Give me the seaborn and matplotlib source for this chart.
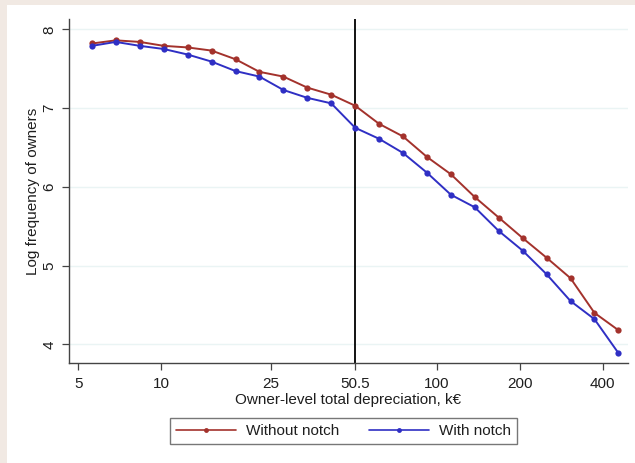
import numpy as np
import pandas as pd
import matplotlib
matplotlib.use("Agg")
import matplotlib.pyplot as plt
from matplotlib.lines import Line2D
from matplotlib.patches import Rectangle
import seaborn as sns

# ---- data ----
depreciation_keur = [5.60, 6.83, 8.35, 10.20, 12.45, 15.21, 18.58, 22.69, 27.71, 33.85,
                     41.35, 50.50, 61.68, 75.33, 92.01, 112.38, 137.27, 167.66, 204.78,
                     250.12, 305.50, 373.14, 455.75]
log_freq_without_notch = [7.82, 7.86, 7.84, 7.79, 7.77, 7.73, 7.62, 7.46, 7.40, 7.26, 7.17,
                          7.03, 6.80, 6.64, 6.38, 6.16, 5.87, 5.61, 5.35, 5.10, 4.84, 4.40, 4.18]
log_freq_with_notch = [7.79, 7.84, 7.79, 7.75, 7.68, 7.59, 7.47, 7.40, 7.23, 7.13, 7.06,
                       6.75, 6.61, 6.43, 6.18, 5.90, 5.74, 5.44, 5.19, 4.89, 4.55, 4.32, 3.89]
series_names = ["Without notch", "With notch"]
series_colors = ["#a3322c", "#2f2fc4"]
notch_at = 50.5
x_ticks = [5, 10, 25, 50.5, 100, 200, 400]
x_tick_labels = ["5", "10", "25", "50.5", "100", "200", "400"]
y_ticks = [4, 5, 6, 7, 8]

df = pd.DataFrame({
    "x": depreciation_keur * 2,
    "y": log_freq_without_notch + log_freq_with_notch,
    "series": [series_names[0]] * len(depreciation_keur) + [series_names[1]] * len(depreciation_keur),
})

sns.set_theme(style="white")
plt.rcParams["font.family"] = ["Liberation Sans", "DejaVu Sans"]
text_color = "#1e1e1e"
fs = 11

fig = plt.figure(figsize=(6.35, 4.63), dpi=100)
fig.patch.set_facecolor("white")
# beige frame strips at top and left
fig.patches.append(Rectangle((0, 1 - 5 / 463), 1, 5 / 463, transform=fig.transFigure,
                             facecolor="#f1e9e3", edgecolor="none", zorder=0))
fig.patches.append(Rectangle((0, 0), 7 / 635, 1, transform=fig.transFigure,
                             facecolor="#f1e9e3", edgecolor="none", zorder=0))

ax = fig.add_axes([69 / 635, 1 - 363 / 463, (628 - 69) / 635, (363 - 19) / 463])

sns.lineplot(data=df, x="x", y="y", hue="series", palette=dict(zip(series_names, series_colors)),
             marker="o", markersize=4.5, markeredgewidth=0, linewidth=1.4, ax=ax, legend=False,
             zorder=3)

ax.set_xscale("log")
ax.set_xlim(4.62, 494)
ax.set_ylim(3.763, 8.131)
ax.axvline(notch_at, color="black", linewidth=1.3, zorder=2)

ax.set_xticks(x_ticks)
ax.set_xticklabels(x_tick_labels)
ax.xaxis.set_minor_locator(matplotlib.ticker.NullLocator())
ax.set_yticks(y_ticks)
ax.set_yticklabels([str(v) for v in y_ticks], rotation=90, va="center")

ax.grid(axis="y", color="#eaf4f4", linewidth=1.0)
ax.grid(axis="x", visible=False)
for side in ["top", "right"]:
    ax.spines[side].set_visible(False)
for side in ["left", "bottom"]:
    ax.spines[side].set_color("#444444")
    ax.spines[side].set_linewidth(1.0)

ax.tick_params(axis="both", which="major", direction="out", length=5, width=0.9,
               color="#444444", labelsize=fs, labelcolor=text_color,
               bottom=True, left=True)
ax.tick_params(axis="x", pad=5)
ax.tick_params(axis="y", pad=4)

ax.set_xlabel("Owner-level total depreciation, k€", fontsize=fs, color=text_color, labelpad=1.5)
ax.set_ylabel("Log frequency of owners", fontsize=fs, color=text_color, labelpad=1.5)

handles = [Line2D([], [], color=c, marker="o", markersize=3.5, markeredgewidth=0, linewidth=1.2)
           for c in series_colors]
leg = fig.legend(handles, series_names, loc="center", bbox_to_anchor=(343.5 / 635, 1 - 431 / 463),
                 ncol=2, frameon=True, fancybox=False, fontsize=fs, handlelength=3.9,
                 numpoints=1, columnspacing=2.0, handletextpad=0.65, borderpad=0.4,
                 labelcolor=text_color)
leg.get_frame().set_edgecolor("#555555")
leg.get_frame().set_linewidth(1.0)

fig.savefig("out.png", dpi=100, facecolor=fig.get_facecolor())
